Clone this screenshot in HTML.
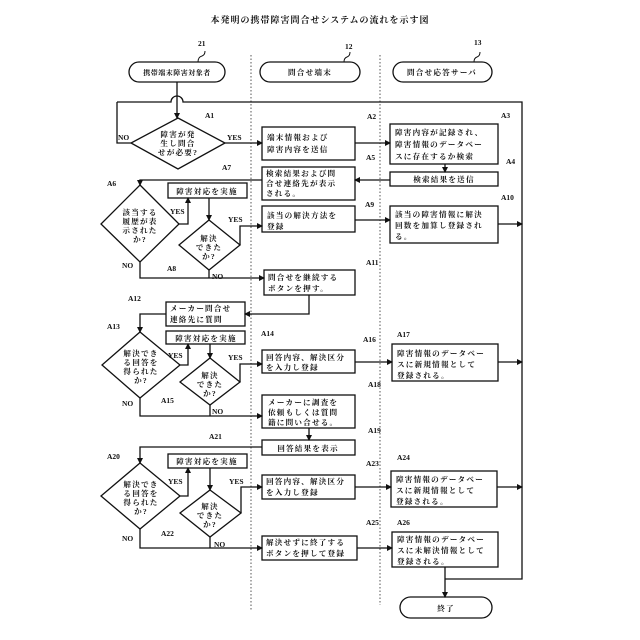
<!DOCTYPE html>
<html><head><meta charset="utf-8"><style>
html,body{margin:0;padding:0;background:#fff}
svg{display:block}
text{font-family:"Liberation Serif","Noto Serif CJK SC",serif;font-size:7.6px;fill:#111;font-weight:bold;letter-spacing:1.2px}
.l{font-size:7.5px;letter-spacing:0}
.t{font-size:9px;letter-spacing:1px}
</style></head><body>
<svg width="640" height="640" viewBox="0 0 640 640" xmlns="http://www.w3.org/2000/svg">
<defs><marker id="a" markerWidth="6" markerHeight="6" refX="5" refY="3" orient="auto" markerUnits="userSpaceOnUse"><path d="M0,0 L6,3 L0,6 z" fill="#111"/></marker></defs>
<text x="320" y="23" text-anchor="middle" class="t">本発明の携帯障害問合せシステムの流れを示す図</text>
<g stroke="#555" stroke-dasharray="1.5,2" stroke-width="1"><line x1="251" y1="55" x2="251" y2="610"/><line x1="380" y1="55" x2="380" y2="605"/></g>
<g fill="none" stroke="#111" stroke-width="1">
<path d="M198 62 q0 -5 4 -6 q3 -1 3 -5"/><path d="M344 62 q0 -4 3 -5 q3 -1 3 -5"/><path d="M474 62 q0 -4 3 -5 q3 -1 3 -5"/>
</g>
<g fill="none" stroke="#111" stroke-width="1.3">
<rect x="129" y="62" width="96" height="20" rx="10"/><rect x="260" y="62" width="100" height="20" rx="10"/><rect x="393" y="62" width="99" height="20" rx="10"/>
<rect x="400" y="597" width="92" height="21" rx="10.5"/>
<path d="M177 82 V118" marker-end="url(#a)"/>
<path d="M117 102 H171 A6 6 0 0 1 183 102 H522 V579 H445"/>
<polygon points="178,118 225,143 178,169 131,143"/>
<path d="M131 143 H117 V102"/>
<path d="M225 143 H262" marker-end="url(#a)"/>
<rect x="262" y="127" width="93" height="33"/>
<path d="M355 143 H390" marker-end="url(#a)"/>
<rect x="390" y="124" width="108" height="40"/>
<path d="M445 164 V172" marker-end="url(#a)"/>
<rect x="390" y="172" width="108" height="14"/>
<path d="M390 180 H355" marker-end="url(#a)"/>
<rect x="262" y="167" width="93" height="33"/>
<path d="M262 180 H140 V185" marker-end="url(#a)"/>
<polygon points="140,185 179,224 140,262 101,224"/>
<rect x="168" y="183" width="79" height="15"/>
<path d="M179 224 H188 V198" marker-end="url(#a)"/>
<path d="M209 198 V220" marker-end="url(#a)"/>
<polygon points="209,220 240,245 209,270 179,245"/>
<path d="M240 245 V226 H262" marker-end="url(#a)"/>
<rect x="262" y="206" width="93" height="26"/>
<path d="M355 220 H390" marker-end="url(#a)"/>
<rect x="390" y="206" width="108" height="37"/>
<path d="M498 224 H522" marker-end="url(#a)"/>
<path d="M140 262 V278 H264" marker-end="url(#a)"/>
<path d="M209 270 V278"/>
<rect x="264" y="270" width="91" height="25"/>
<path d="M309 295 V314 H245" marker-end="url(#a)"/>
<rect x="166" y="302" width="79" height="24"/>
<path d="M166 314 H140 V332" marker-end="url(#a)"/>
<polygon points="140,332 180,365 140,398 102,365"/>
<rect x="166" y="331" width="79" height="13"/>
<path d="M180 365 H188 V344" marker-end="url(#a)"/>
<path d="M210 344 V358" marker-end="url(#a)"/>
<polygon points="210,358 240,382 210,405 180,382"/>
<path d="M240 382 V364 H262" marker-end="url(#a)"/>
<rect x="262" y="350" width="93" height="23"/>
<path d="M355 362 H392" marker-end="url(#a)"/>
<rect x="392" y="344" width="106" height="37"/>
<path d="M498 362 H522" marker-end="url(#a)"/>
<path d="M140 398 V416 H262" marker-end="url(#a)"/>
<path d="M210 405 V416"/>
<rect x="262" y="395" width="93" height="33"/>
<path d="M309 428 V440" marker-end="url(#a)"/>
<rect x="262" y="440" width="93" height="15"/>
<path d="M262 447 H140 V463" marker-end="url(#a)"/>
<polygon points="140,463 180,496 140,529 101,496"/>
<rect x="168" y="454" width="79" height="14"/>
<path d="M180 496 H188 V468" marker-end="url(#a)"/>
<path d="M210 468 V490" marker-end="url(#a)"/>
<polygon points="210,490 241,513 210,537 180,513"/>
<path d="M241 513 V487 H262" marker-end="url(#a)"/>
<rect x="262" y="475" width="93" height="24"/>
<path d="M355 487 H391" marker-end="url(#a)"/>
<rect x="391" y="471" width="106" height="36"/>
<path d="M497 487 H522" marker-end="url(#a)"/>
<path d="M140 529 V548 H262" marker-end="url(#a)"/>
<path d="M210 537 V548"/>
<rect x="262" y="536" width="95" height="24"/>
<path d="M357 548 H392" marker-end="url(#a)"/>
<rect x="392" y="532" width="106" height="35"/>
<path d="M445 567 V597" marker-end="url(#a)"/>
</g>
<g>
<text x="177" y="75" text-anchor="middle" style="font-size:7px;letter-spacing:0.5px">携帯端末障害対象者</text>
<text x="310" y="75" text-anchor="middle">問合せ端末</text>
<text x="442" y="75" text-anchor="middle">問合せ応答サーバ</text>
<text x="446" y="611" text-anchor="middle">終了</text>
<text x="178" y="137" text-anchor="middle">障害が発</text><text x="178" y="146" text-anchor="middle">生し問合</text><text x="178" y="155" text-anchor="middle">せが必要?</text>
<text x="267" y="140">端末情報および</text><text x="267" y="152">障害内容を送信</text>
<text x="395" y="135">障害内容が記録され、</text><text x="395" y="147">障害情報のデータベー</text><text x="395" y="159">スに存在するか検索</text>
<text x="444" y="182" text-anchor="middle">検索結果を送信</text>
<text x="266" y="176">検索結果および問</text><text x="266" y="186">合せ連絡先が表示</text><text x="266" y="196">される。</text>
<text x="140" y="215" text-anchor="middle">該当する</text><text x="140" y="224" text-anchor="middle">履歴が表</text><text x="140" y="233" text-anchor="middle">示された</text><text x="140" y="242" text-anchor="middle">か?</text>
<text x="207" y="194" text-anchor="middle">障害対応を実施</text>
<text x="209" y="241" text-anchor="middle">解決</text><text x="209" y="250" text-anchor="middle">できた</text><text x="209" y="259" text-anchor="middle">か?</text>
<text x="267" y="218">該当の解決方法を</text><text x="267" y="229">登録</text>
<text x="395" y="217">該当の障害情報に解決</text><text x="395" y="228">回数を加算し登録され</text><text x="395" y="239">る。</text>
<text x="268" y="280">問合せを継続する</text><text x="268" y="291">ボタンを押す。</text>
<text x="170" y="311">メーカー問合せ</text><text x="170" y="322">連絡先に質問</text>
<text x="141" y="356" text-anchor="middle">解決でき</text><text x="141" y="365" text-anchor="middle">る回答を</text><text x="141" y="374" text-anchor="middle">得られた</text><text x="141" y="383" text-anchor="middle">か?</text>
<text x="206" y="341" text-anchor="middle">障害対応を実施</text>
<text x="210" y="378" text-anchor="middle">解決</text><text x="210" y="387" text-anchor="middle">できた</text><text x="210" y="396" text-anchor="middle">か?</text>
<text x="266" y="360">回答内容、解決区分</text><text x="266" y="370">を入力し登録</text>
<text x="397" y="356">障害情報のデータベー</text><text x="397" y="367">スに新規情報として</text><text x="397" y="378">登録される。</text>
<text x="268" y="405">メーカーに調査を</text><text x="268" y="415">依頼もしくは質問</text><text x="268" y="425">籍に問い合せる。</text>
<text x="308" y="451" text-anchor="middle">回答結果を表示</text>
<text x="141" y="487" text-anchor="middle">解決でき</text><text x="141" y="496" text-anchor="middle">る回答を</text><text x="141" y="505" text-anchor="middle">得られた</text><text x="141" y="514" text-anchor="middle">か?</text>
<text x="207" y="464" text-anchor="middle">障害対応を実施</text>
<text x="210" y="509" text-anchor="middle">解決</text><text x="210" y="518" text-anchor="middle">できた</text><text x="210" y="527" text-anchor="middle">か?</text>
<text x="266" y="484">回答内容、解決区分</text><text x="266" y="495">を入力し登録</text>
<text x="396" y="482">障害情報のデータベー</text><text x="396" y="493">スに新規情報として</text><text x="396" y="504">登録される。</text>
<text x="266" y="545">解決せずに終了する</text><text x="266" y="556">ボタンを押して登録</text>
<text x="397" y="542">障害情報のデータベー</text><text x="397" y="553">スに未解決情報として</text><text x="397" y="564">登録される。</text>
</g>
<g class="l">
<text class="l" x="118" y="140">NO</text><text class="l" x="227" y="140">YES</text>
<text class="l" x="170" y="214">YES</text><text class="l" x="228" y="222">YES</text>
<text class="l" x="122" y="268">NO</text><text class="l" x="212" y="279">NO</text>
<text class="l" x="168" y="358">YES</text><text class="l" x="228" y="360">YES</text>
<text class="l" x="122" y="406">NO</text><text class="l" x="212" y="414">NO</text>
<text class="l" x="168" y="484">YES</text><text class="l" x="229" y="484">YES</text>
<text class="l" x="122" y="541">NO</text><text class="l" x="214" y="547">NO</text>
<text class="l" x="198" y="46">21</text><text class="l" x="345" y="49">12</text><text class="l" x="474" y="45">13</text>
<text class="l" x="205" y="118">A1</text><text class="l" x="367" y="119">A2</text><text class="l" x="501" y="118">A3</text>
<text class="l" x="506" y="164">A4</text><text class="l" x="366" y="160">A5</text><text class="l" x="107" y="186">A6</text>
<text class="l" x="222" y="170">A7</text><text class="l" x="167" y="271">A8</text><text class="l" x="365" y="207">A9</text>
<text class="l" x="501" y="200">A10</text><text class="l" x="366" y="265">A11</text><text class="l" x="128" y="301">A12</text>
<text class="l" x="107" y="329">A13</text><text class="l" x="261" y="336">A14</text><text class="l" x="161" y="403">A15</text>
<text class="l" x="363" y="342">A16</text><text class="l" x="397" y="337">A17</text><text class="l" x="368" y="387">A18</text>
<text class="l" x="368" y="433">A19</text><text class="l" x="107" y="459">A20</text><text class="l" x="209" y="439">A21</text>
<text class="l" x="161" y="536">A22</text><text class="l" x="366" y="466">A23</text><text class="l" x="397" y="460">A24</text>
<text class="l" x="366" y="525">A25</text><text class="l" x="397" y="525">A26</text>
</g>
</svg>
</body></html>
